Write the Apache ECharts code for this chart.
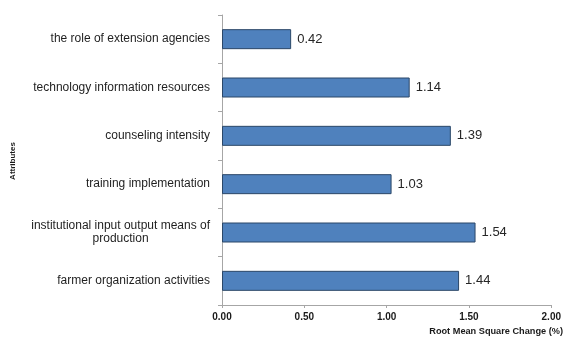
<!DOCTYPE html>
<html>
<head>
<meta charset="utf-8">
<script src="https://cdn.jsdelivr.net/npm/echarts@6/dist/echarts.min.js"></script>
<style>
  html, body { margin: 0; padding: 0; background: #ffffff; }
  #chart { width: 564px; height: 340px; }
</style>
</head>
<body>
<div id="chart"></div>
<script>
// Attributes, listed top to bottom
const categories = [
  'the role of extension agencies',
  'technology information resources',
  'counseling intensity',
  'training implementation',
  'institutional input output means of\nproduction',
  'farmer organization activities'
];
// Root mean square change (%) for each attribute
const values = [0.42, 1.14, 1.39, 1.03, 1.54, 1.44];
// Value axis tick labels
const xTicks = ['0.00', '0.50', '1.00', '1.50', '2.00'];

const axisGrey = '#a6a6a6';
const textFont = "'Liberation Sans', Arial, sans-serif";

const chart = echarts.init(document.getElementById('chart'), null, { renderer: 'canvas' });

chart.setOption({
  animation: false,
  backgroundColor: '#ffffff',
  grid: { left: 222, right: 9, top: 15, bottom: 35, containLabel: false },
  xAxis: {
    type: 'value',
    min: 0,
    max: 2,
    interval: 0.5,
    splitLine: { show: false },
    axisLine: { show: true, lineStyle: { color: axisGrey, width: 1 } },
    axisTick: { show: true, length: 3, lineStyle: { color: axisGrey } },
    axisLabel: {
      margin: 7,
      fontSize: 10,
      fontWeight: 'bold',
      fontFamily: textFont,
      color: '#1a1a1a',
      formatter: (v) => xTicks[Math.round(v / 0.5)]
    }
  },
  yAxis: {
    type: 'category',
    inverse: true,
    data: categories,
    axisLine: { show: true, lineStyle: { color: axisGrey, width: 1 } },
    axisTick: { show: true, length: 4, lineStyle: { color: axisGrey } },
    axisLabel: {
      margin: 12,
      fontSize: 12,
      fontFamily: textFont,
      color: '#1f1f1f',
      lineHeight: 13,
      formatter: (v) => '{c|' + v + '}',
      rich: {
        c: { align: 'center', fontSize: 12, fontFamily: textFont, color: '#1f1f1f', lineHeight: 13 }
      }
    }
  },
  series: [{
    type: 'bar',
    data: values,
    barWidth: 20,
    itemStyle: { color: '#4f81bd', borderColor: '#2b4768', borderWidth: 1 },
    label: {
      show: true,
      position: 'right',
      distance: 6,
      fontSize: 13,
      fontFamily: textFont,
      color: '#262626',
      formatter: (p) => p.value.toFixed(2)
    }
  }],
  graphic: [
    {
      type: 'text',
      right: 1,
      top: 327,
      style: {
        text: 'Root Mean Square Change (%)',
        font: "bold 9.2px 'Liberation Sans', Arial, sans-serif",
        fill: '#1a1a1a'
      }
    },
    {
      type: 'text',
      x: 13,
      y: 161,
      rotation: Math.PI / 2,
      style: {
        text: 'Attributes',
        font: "bold 8px 'Liberation Sans', Arial, sans-serif",
        fill: '#1a1a1a',
        align: 'center',
        verticalAlign: 'middle'
      }
    }
  ]
});
</script>
</body>
</html>
